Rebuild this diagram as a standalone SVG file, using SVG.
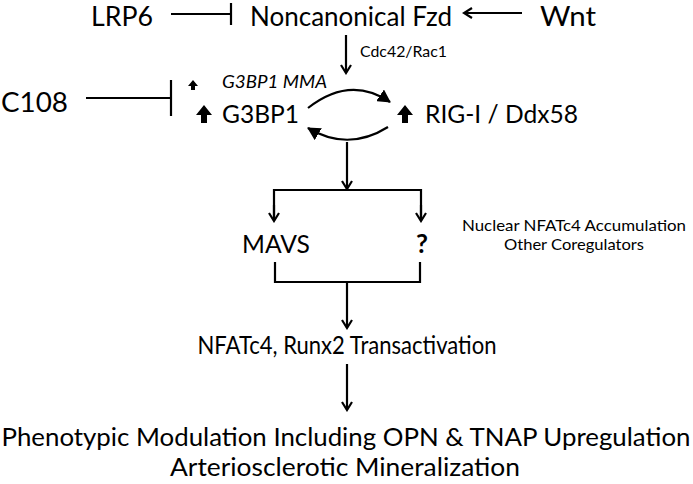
<svg xmlns="http://www.w3.org/2000/svg" width="693" height="484" viewBox="0 0 693 484">
<style>
text{font-family:Lato,"Open Sans","Liberation Sans",sans-serif;fill:#000}
.top{font-size:26px}
.big{font-size:25px}
.sm{font-size:16px}
.it{font-size:17px;font-style:italic}
.ln{stroke:#000;stroke-width:2.2;fill:none}
.hd{fill:#000}
</style>
<defs>
<marker id="v" viewBox="0 0 12 12" refX="10" refY="6" markerWidth="12" markerHeight="12" markerUnits="userSpaceOnUse" orient="auto">
<polyline points="2,1 10,6 2,11" fill="none" stroke="#000" stroke-width="2.2"/>
</marker>
<marker id="tri" viewBox="0 0 14 14" refX="12" refY="7" markerWidth="14" markerHeight="14" markerUnits="userSpaceOnUse" orient="auto">
<path d="M0,0 L13,7 L0,14 Z" fill="#000"/>
</marker>
</defs>
<g id="LRP6"><text class="top" x="91" y="26" textLength="62" lengthAdjust="spacingAndGlyphs">LRP6</text></g>
<g id="Fzd"><text class="top" x="250" y="26" textLength="202" lengthAdjust="spacingAndGlyphs">Noncanonical Fzd</text></g>
<g id="Wnt"><text class="top" x="540" y="26" textLength="56" lengthAdjust="spacingAndGlyphs">Wnt</text></g>
<g id="C108"><text class="top" x="1" y="112" textLength="67" lengthAdjust="spacingAndGlyphs">C108</text></g>
<g id="MMA">
<path class="hd" d="M193,80 L198,86 L195,86 L195,90 L191,90 L191,86 L188,86 Z"/>
<text class="it" x="222" y="88" textLength="105" lengthAdjust="spacingAndGlyphs">G3BP1 MMA</text></g>
<g id="G3BP1">
<path class="hd" d="M204,105 L212,115 L207,115 L207,123 L201,123 L201,115 L196,115 Z"/>
<text class="big" x="222" y="123" textLength="77" lengthAdjust="spacingAndGlyphs">G3BP1</text></g>
<g id="RIGI">
<path class="hd" d="M405,105 L413,115 L408,115 L408,123 L402,123 L402,115 L397,115 Z"/>
<text class="big" x="425" y="123" textLength="153" lengthAdjust="spacingAndGlyphs">RIG-I / Ddx58</text></g>
<g id="MAVS"><text class="big" x="242" y="253" textLength="68" lengthAdjust="spacingAndGlyphs">MAVS</text></g>
<g id="Q"><text x="422" y="253" text-anchor="middle" font-weight="bold" font-size="26">?</text></g>
<g id="Nuclear">
<text class="sm" x="574" y="231" text-anchor="middle" textLength="224" lengthAdjust="spacingAndGlyphs">Nuclear NFATc4 Accumulation</text>
<text class="sm" x="574" y="250" text-anchor="middle" textLength="140" lengthAdjust="spacingAndGlyphs">Other Coregulators</text></g>
<g id="NFATc4"><text class="big" x="347" y="354" text-anchor="middle" textLength="299" lengthAdjust="spacingAndGlyphs">NFATc4, Runx2 Transactivation</text></g>
<g id="Pheno">
<text class="big" x="346" y="446" text-anchor="middle" textLength="689" lengthAdjust="spacingAndGlyphs">Phenotypic Modulation Including OPN &amp; TNAP Upregulation</text>
<text class="big" x="345" y="476" text-anchor="middle" textLength="350" lengthAdjust="spacingAndGlyphs">Arteriosclerotic Mineralization</text></g>
<g id="connectors">
<line class="ln" x1="171" y1="14" x2="231" y2="14"/>
<line class="ln" x1="231" y1="3" x2="231" y2="25"/>
<line class="ln" x1="522" y1="13" x2="464" y2="13" marker-end="url(#v)"/>
<line class="ln" x1="346" y1="35" x2="346" y2="73" marker-end="url(#v)"/>
<text class="sm" x="360" y="57" textLength="87" lengthAdjust="spacingAndGlyphs">Cdc42/Rac1</text>
<line class="ln" x1="86" y1="98" x2="171" y2="98"/>
<line class="ln" x1="171" y1="80" x2="171" y2="116"/>
<path class="ln" d="M308,108 Q350,75 390,102" marker-end="url(#tri)"/>
<path class="ln" d="M388,127 Q348,152 308,128" marker-end="url(#tri)"/>
<line class="ln" x1="347" y1="142" x2="347" y2="189" marker-end="url(#v)"/>
<polyline class="ln" points="274,220 274,190 421,190 421,220"/>
<line class="ln" x1="274" y1="205" x2="274" y2="221" marker-end="url(#v)"/>
<line class="ln" x1="421" y1="205" x2="421" y2="221" marker-end="url(#v)"/>
<polyline class="ln" points="275,262 275,282 420,282 420,262"/>
<line class="ln" x1="347" y1="282" x2="347" y2="328" marker-end="url(#v)"/>
<line class="ln" x1="347" y1="364" x2="347" y2="410" marker-end="url(#v)"/>
</g>
</svg>
